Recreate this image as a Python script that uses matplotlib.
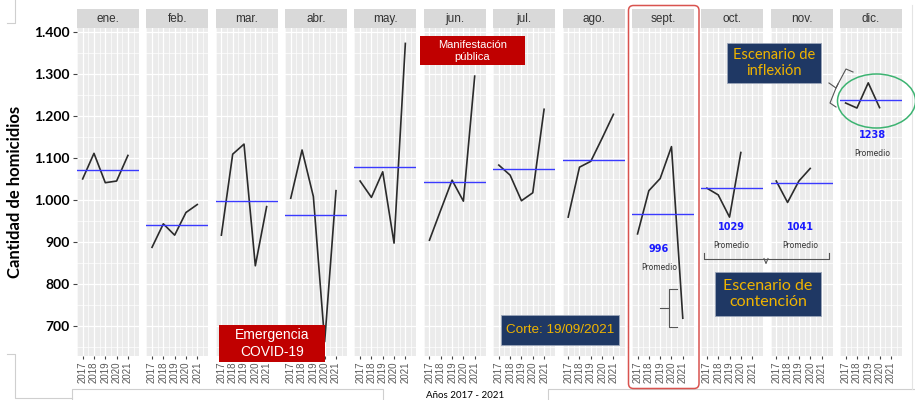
import numpy as np
import matplotlib.pyplot as plt
from matplotlib.patches import Rectangle, FancyBboxPatch, Ellipse
from matplotlib.lines import Line2D
from matplotlib.transforms import IdentityTransform

W, H = 915, 400

meses = ["ene.", "feb.", "mar.", "abr.", "may.", "jun.",
         "jul.", "ago.", "sept.", "oct.", "nov.", "dic."]
anios = [2017, 2018, 2019, 2020, 2021]

# homicidios por mes y año (oct-dic sin dato 2021, corte 19/09/2021)
ene = [1051, 1112, 1042, 1046, 1107]
feb = [888, 944, 917, 971, 990]
mar = [917, 1110, 1134, 844, 985]
abr = [1005, 1120, 1009, 663, 1023]
may = [1046, 1007, 1068, 898, 1374]
jun = [905, 977, 1048, 998, 1296]
jul = [1084, 1060, 999, 1018, 1217]
ago = [960, 1079, 1093, 1148, 1205]
sep = [920, 1023, 1052, 1128, 719]
octu = [1029, 1013, 960, 1114]
nov = [1046, 995, 1046, 1076]
dic = [1232, 1220, 1280, 1221]
series = [ene, feb, mar, abr, may, jun, jul, ago, sep, octu, nov, dic]

y_ticks = [700, 800, 900, 1000, 1100, 1200, 1300, 1400]
y_labels = ["700", "800", "900", "1.000", "1.100", "1.200", "1.300", "1.400"]

# etiquetas de promedio: panel, texto, posicion (pixeles)
prom_panel = [8, 9, 10, 11]
prom_texto = ["996", "1029", "1041", "1238"]
prom_xy = [(659, 249), (731, 227), (800, 227), (872, 135)]
prom_sub_y = [267, 245, 245, 153]


def fx(x):
    return x / W


def fy(y):
    return 1 - y / H


fig = plt.figure(figsize=(W / 100, H / 100), dpi=100)
fig.patch.set_facecolor("white")

left0, pw, gap = 77, 62, 7.36
top_px, bot_px = 28.3, 356
strip_h = 19

axes = []
for i, (mes, vals) in enumerate(zip(meses, series)):
    x0 = left0 + i * (pw + gap)
    ax = fig.add_axes([fx(x0), fy(bot_px), pw / W, (bot_px - top_px) / H])
    ax.set_facecolor("#ebebeb")
    for s in ax.spines.values():
        s.set_visible(False)
    ax.set_xlim(2016.72, 2021.98)
    ax.set_ylim(629, 1410)
    ax.set_xticks(anios)
    ax.set_xticks(np.arange(2016.5, 2022, 0.5), minor=True)
    ax.set_yticks(y_ticks)
    ax.set_yticks(np.arange(650, 1410, 100), minor=True)
    ax.grid(True, which="major", color="white", lw=0.9)
    ax.grid(True, which="minor", color="white", lw=0.5)
    ax.set_axisbelow(True)
    ax.set_xticklabels([str(a) for a in anios], rotation=90, fontsize=7,
                       color="#5a5a5a", family="Liberation Sans")
    ax.tick_params(axis="x", which="major", length=2.5, width=0.8,
                   color="#444444", pad=1.5)
    ax.tick_params(which="minor", length=0)
    if i == 0:
        ax.set_yticklabels(y_labels, fontsize=10, fontweight="bold",
                           family="Lato", color="black")
        ax.tick_params(axis="y", which="major", length=3, width=0.8,
                       color="#444444", pad=2)
        ax.set_ylabel("Cantidad de homicidios", fontsize=12,
                      fontweight="bold", family="Lato", labelpad=8)
    else:
        ax.tick_params(axis="y", which="major", length=0, labelleft=False)

    ax.plot(anios[:len(vals)], vals, color="#2b2b2b", lw=1.2, zorder=3)
    ax.axhline(np.mean(vals), color="#3a3aff", lw=1.0, zorder=4)

    # cabecera del panel
    ax.add_patch(Rectangle((0, 1), 1, strip_h / (bot_px - top_px),
                           transform=ax.transAxes, facecolor="#d9d9d9",
                           edgecolor="none", clip_on=False))
    ax.text(0.5, 1 + strip_h / 2 / (bot_px - top_px), mes,
            transform=ax.transAxes, ha="center", va="center",
            fontsize=8.5, color="#333333", family="Liberation Sans")
    axes.append(ax)

# etiquetas de promedio
for p, t, (x, y), ys in zip(prom_panel, prom_texto, prom_xy, prom_sub_y):
    fig.text(fx(x), fy(y), t, ha="center", va="center", fontsize=7,
             fontweight="bold", color="#1a1aff", family="DejaVu Sans")
    fig.text(fx(x), fy(ys), "Promedio", ha="center", va="center",
             fontsize=5.5, color="#333333", family="DejaVu Sans")


def caja(x0, y0, x1, y1, texto, fondo, color, size, family):
    fig.patches.append(Rectangle((fx(x0), fy(y1)), fx(x1 - x0), (y1 - y0) / H,
                                 transform=fig.transFigure, facecolor=fondo,
                                 edgecolor="#9aa5b8" if fondo == "#1f3864" else "none",
                                 lw=0.6, zorder=5))
    fig.text(fx((x0 + x1) / 2), fy((y0 + y1) / 2), texto, ha="center",
             va="center", color=color, fontsize=size, family=family,
             linespacing=1.25, zorder=6)


caja(219, 325, 325, 362, "Emergencia\nCOVID-19", "#c00000", "white", 10,
     "Liberation Sans")
caja(420, 36, 525, 65, "Manifestación\npública", "#c00000", "white", 8,
     "Liberation Sans")
caja(501, 315, 619, 345, "Corte: 19/09/2021", "#1f3864", "#f0b400", 9.7,
     "Liberation Sans")
caja(727, 43, 821, 83, "Escenario de\ninflexión", "#1f3864", "#f0b400", 10.5,
     "Lato")
caja(715, 272, 821, 316, "Escenario de\ncontención", "#1f3864", "#f0b400",
     11.5, "Lato")

# recuadro septiembre
fig.patches.append(FancyBboxPatch((628.5, H - 388.5), 70.5, 383,
                                  boxstyle="round,pad=0,rounding_size=5",
                                  transform=IdentityTransform(),
                                  facecolor="none", edgecolor="#d9534f",
                                  lw=1.1, zorder=7))

# elipse diciembre
fig.patches.append(Ellipse((fx(876.5), fy(101)), 78 / W, 54 / H,
                           transform=fig.transFigure, facecolor="none",
                           edgecolor="#3cb371", lw=1.1, zorder=7))


def trazo(pts, color="#555555", lw=0.8):
    xs = [fx(p[0]) for p in pts]
    ys = [fy(p[1]) for p in pts]
    fig.lines.append(Line2D(xs, ys, transform=fig.transFigure, color=color,
                            lw=lw, zorder=7))


# llaves
trazo([(853, 72), (846, 69), (838, 84), (836, 88), (829, 83)])
trazo([(838, 84), (836, 88), (830, 103), (836, 107)])
trazo([(677, 289), (668.5, 289), (668.5, 327), (677, 327)])
trazo([(660, 308), (668.5, 308)])
trazo([(703.5, 253), (703.5, 258.5), (829, 258.5), (829, 253)])
trazo([(764, 258.5), (766, 263.5), (768, 258.5)])

# marcos tenues de la captura
gris = "#cfcfcf"
trazo([(7, 23), (15, 23), (15, 0)], color=gris, lw=0.8)
trazo([(7, 354), (15, 354), (15, 398), (72, 398)], color=gris, lw=0.8)
trazo([(72, 400), (72, 389), (383, 389), (383, 400)], color=gris, lw=0.8)
trazo([(548, 400), (548, 389), (915, 389)], color=gris, lw=0.8)
trazo([(912, 5), (912, 389)], color="#e4e4e4", lw=0.8)

fig.text(fx(465), fy(395), "Años 2017 - 2021", ha="center", va="center",
         fontsize=7, family="Lato", color="black")

fig.savefig("out.png", dpi=100)
